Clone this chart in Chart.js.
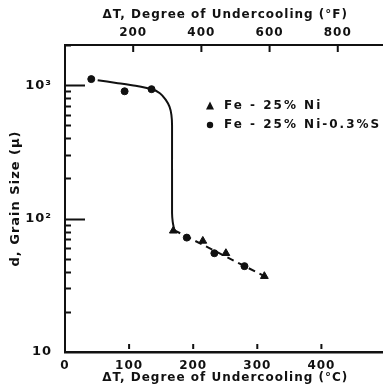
<!DOCTYPE html>
<html>
<head>
<meta charset="utf-8">
<script src="https://cdn.jsdelivr.net/npm/chart.js@4"></script>
<style>
    html, body { margin: 0; padding: 0; background: #fff; overflow: hidden; }
    canvas { display: block; }
</style>
</head>
<body>
<canvas id="myChart" width="391" height="391"></canvas>
<script>
// Fe-25%Ni-0.3%S (circles)
const sulfurTemp = [41, 93, 135, 190, 233, 280];
const sulfurSize = [1110, 900, 933, 72, 55, 44];
// Fe-25%Ni (triangles)
const nickelTemp = [169, 215, 251, 311];
const nickelSize = [81, 68, 55, 37];
// hand drawn solid curve
const curveTemp = [51, 80, 110, 135, 148, 157, 163, 166, 167, 167, 168, 170];
const curveSize = [1090, 1040, 990, 935, 870, 780, 690, 600, 500, 110, 95, 84];
// dashed trend through the low points
const dashTemp = [170, 311];
const dashSize = [82, 37];

const xTicksC = [0, 100, 200, 300, 400];
const xTicksF = [200, 400, 600, 800];
const yTicks = [10, 100, 1000];
const yLabels = {10: '10', 100: '10²', 1000: '10³'};

const ink = '#111';
const tickFont = { family: 'DejaVu Sans', size: 12, weight: 'bold' };
const titleFont = { family: 'DejaVu Sans', size: 12, weight: 'bold' };

function pairs(xs, ys) {
    return xs.map(function (x, i) { return { x: x, y: ys[i] }; });
}

const spacing = {
    id: 'spacing',
    beforeDraw: function (chart) {
        chart.ctx.letterSpacing = '1px';
    }
};

const innerTicks = {
    id: 'innerTicks',
    afterDraw: function (chart) {
        const ctx = chart.ctx;
        const area = chart.chartArea;
        const y = chart.scales.y;
        const x = chart.scales.x;
        const x2 = chart.scales.x2;
        ctx.save();
        ctx.strokeStyle = ink;
        ctx.lineWidth = 2;
        ctx.beginPath();
        for (let k = 1; k <= 3; k++) {
            for (let m = 1; m <= 9; m++) {
                const v = m * Math.pow(10, k);
                if (v > 2000 || (k === 1 && m === 1)) continue;
                const py = Math.round(y.getPixelForValue(v)) + 0.5;
                const len = m === 1 ? 20 : 6;
                ctx.moveTo(area.left, py);
                ctx.lineTo(area.left + len, py);
            }
        }
        xTicksC.forEach(function (v) {
            if (v === 0) return;
            const px = x.getPixelForValue(v);
            ctx.moveTo(px, area.bottom - 3);
            ctx.lineTo(px, area.bottom - 8);
        });
        xTicksF.forEach(function (v) {
            const px = x2.getPixelForValue(v);
            ctx.moveTo(px, area.top);
            ctx.lineTo(px, area.top + 7);
        });
        ctx.stroke();

        // legend
        const lx = area.left + 145;
        const ly = area.top + 61;
        ctx.fillStyle = ink;
        ctx.beginPath();
        ctx.moveTo(lx, ly - 4.5);
        ctx.lineTo(lx + 4, ly + 3.5);
        ctx.lineTo(lx - 4, ly + 3.5);
        ctx.closePath();
        ctx.fill();
        ctx.beginPath();
        ctx.arc(lx, ly + 19, 3.2, 0, Math.PI * 2);
        ctx.fill();
        ctx.font = 'bold 12px "DejaVu Sans"';
        ctx.textBaseline = 'middle';
        ctx.letterSpacing = '2px';
        ctx.fillText('Fe - 25% Ni', lx + 14, ly);
        ctx.fillText('Fe - 25% Ni-0.3%S', lx + 14, ly + 19);
        ctx.restore();
    }
};

const chartData = {
    datasets: [
        {
            label: 'curve',
            data: pairs(curveTemp, curveSize),
            showLine: true,
            borderColor: ink,
            borderWidth: 2,
            pointRadius: 0,
            tension: 0.2
        },
        {
            label: 'dash',
            data: pairs(dashTemp, dashSize),
            showLine: true,
            borderColor: ink,
            borderWidth: 2,
            borderDash: [7, 5],
            pointRadius: 0
        },
        {
            label: 'Fe - 25% Ni - 0.3% S',
            data: pairs(sulfurTemp, sulfurSize),
            pointStyle: 'circle',
            pointRadius: 3.5,
            backgroundColor: ink,
            borderColor: ink
        },
        {
            label: 'Fe - 25% Ni',
            data: pairs(nickelTemp, nickelSize),
            pointStyle: 'triangle',
            pointRadius: 4.5,
            backgroundColor: ink,
            borderColor: ink
        }
    ]
};

const chartConfig = {
    type: 'scatter',
    data: chartData,
    options: {
        responsive: false,
        animation: false,
        layout: { padding: 0 },
        plugins: {
            legend: { display: false },
            tooltip: { enabled: false }
        },
        scales: {
            x: {
                type: 'linear',
                position: 'bottom',
                min: 0,
                max: 500,
                afterFit: function (s) { s.height = 39; },
                afterBuildTicks: function (s) {
                    s.ticks = xTicksC.map(function (v) { return { value: v }; });
                },
                grid: { display: false, drawTicks: false },
                border: { display: true, color: ink, width: 2.5 },
                ticks: { color: ink, font: tickFont, padding: 7, maxRotation: 0 },
                title: {
                    display: true,
                    text: 'ΔT, Degree of Undercooling (°C)',
                    color: ink,
                    font: titleFont,
                    padding: { top: 0, bottom: 6 }
                }
            },
            x2: {
                type: 'linear',
                axis: 'x',
                position: 'top',
                min: 0,
                max: 940,
                afterFit: function (s) { s.height = 45; },
                afterBuildTicks: function (s) {
                    s.ticks = xTicksF.map(function (v) { return { value: v }; });
                },
                grid: { display: false, drawTicks: false },
                border: { display: true, color: ink, width: 2 },
                ticks: { color: ink, font: tickFont, padding: 5, maxRotation: 0 },
                title: {
                    display: true,
                    text: 'ΔT, Degree of Undercooling (°F)',
                    color: ink,
                    font: titleFont,
                    padding: { top: 8, bottom: 0 }
                }
            },
            y: {
                type: 'logarithmic',
                min: 10,
                max: 2000,
                afterFit: function (s) { s.width = 65; },
                afterBuildTicks: function (s) {
                    s.ticks = yTicks.map(function (v) { return { value: v }; });
                },
                grid: { display: false, drawTicks: false },
                border: { display: true, color: ink, width: 2 },
                ticks: {
                    color: ink,
                    font: { family: 'DejaVu Sans', size: 13, weight: 'bold' },
                    padding: 13,
                    callback: function (value) { return yLabels[value] || ''; }
                },
                title: {
                    display: true,
                    text: 'd, Grain Size (μ)',
                    color: ink,
                    font: { family: 'DejaVu Sans', size: 13, weight: 'bold' },
                    padding: { top: 8, bottom: 0 }
                }
            }
        }
    },
    plugins: [spacing, innerTicks]
};

const ctx = document.getElementById('myChart').getContext('2d');
const myChart = new Chart(ctx, chartConfig);
</script>
</body>
</html>
